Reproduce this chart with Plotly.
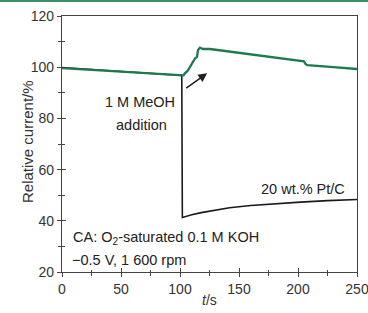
import plotly.graph_objects as go

# Pt/C (black) chronoamperometry
t_ptc = [0, 25, 50, 75, 100, 101.5, 102, 105, 110, 118, 125, 135, 142, 160, 180, 202, 225, 250]
v_ptc = [99.9, 99.2, 98.5, 97.7, 97.0, 96.8, 41.3, 41.8, 42.4, 43.2, 43.8, 44.6, 45.1, 46.0, 46.7, 47.3, 47.9, 48.3]

# catalyst (green)
t_cat = [0, 50, 100, 103, 104, 106.8, 109, 111, 112.7, 114.4, 115.3, 116.9, 119.5, 125.4, 142, 170, 205, 206.5, 208, 230, 250]
v_cat = [99.6, 98.2, 96.7, 96.8, 97.5, 98.8, 100.5, 102.1, 103.4, 104.0, 106.7, 107.6, 107.1, 107.1, 106.1, 104.4, 102.3, 101.2, 100.8, 100.0, 99.3]

x_ticks = [0, 50, 100, 150, 200, 250]
y_ticks = [20, 40, 60, 80, 100, 120]

FONT = "Liberation Sans, Arial, sans-serif"
AX = "#444444"
GREEN = "#1d7a50"

fig = go.Figure()
fig.add_trace(go.Scatter(x=t_ptc, y=v_ptc, mode="lines",
                         line=dict(color="#1a1a1a", width=1.6), xaxis="x", yaxis="y",
                         showlegend=False, hoverinfo="skip"))
fig.add_trace(go.Scatter(x=t_cat, y=v_cat, mode="lines",
                         line=dict(color=GREEN, width=2.3), xaxis="x2", yaxis="y2",
                         showlegend=False, hoverinfo="skip"))

common_x = dict(range=[0, 250], tickvals=x_ticks, ticklen=4, tickwidth=1, tickcolor=AX,
                minor=dict(dtick=25, tick0=0, ticklen=2.5, tickwidth=1, tickcolor=AX),
                showgrid=False, zeroline=False, automargin=False)
common_y = dict(range=[20, 120], tickvals=y_ticks, ticklen=4, tickwidth=1, tickcolor=AX,
                minor=dict(dtick=10, tick0=0, ticklen=2.5, tickwidth=1, tickcolor=AX),
                showgrid=False, zeroline=False, automargin=False)

fig.update_layout(
    width=368, height=313,
    margin=dict(l=62, r=11, t=16, b=41),
    paper_bgcolor="white", plot_bgcolor="white",
    font=dict(family=FONT, color="#333333", size=14),
    xaxis=dict(**common_x, ticks="outside", showline=True, linecolor=AX, linewidth=1.3, mirror=True,
               minor_ticks="outside", ticklabeloverflow="allow",
               tickfont=dict(size=14, color="#333333")),
    yaxis=dict(**common_y, ticks="outside", showline=True, linecolor=AX, linewidth=1.3, mirror=True,
               minor_ticks="outside", ticklabeloverflow="allow",
               tickfont=dict(size=14, color="#333333")),
    xaxis2=dict(**common_x, overlaying="x", anchor="y2", side="bottom", ticks="inside",
                minor_ticks="inside", showticklabels=False, showline=False),
    yaxis2=dict(**common_y, overlaying="y", anchor="x2", side="left", ticks="inside",
                minor_ticks="inside", showticklabels=False, showline=False),
)

ann_font = dict(family=FONT, size=14.5, color="#222222")
# axis titles
fig.add_annotation(x=0.5, y=-28/256, xref="paper", yref="paper", text="<i>t</i>/s",
                   showarrow=False, font=dict(family=FONT, size=14, color="#333333"),
                   yanchor="middle")
fig.add_annotation(x=-35/295, y=(272-142)/256, xref="paper", yref="paper",
                   text="Relative current/%", textangle=-90, showarrow=False,
                   font=dict(family=FONT, size=15, color="#333333"),
                   xanchor="center", yanchor="middle")
# in-plot labels
fig.add_annotation(x=66, y=86.4, text="1 M MeOH", showarrow=False, font=ann_font, xref="x", yref="y")
fig.add_annotation(x=67, y=77.6, text="addition", showarrow=False, font=ann_font, xref="x", yref="y")
fig.add_annotation(x=241.5, y=52.5, text="20 wt.% Pt/C", showarrow=False, font=ann_font,
                   xanchor="right", xref="x", yref="y")
fig.add_annotation(x=8, y=33.3, text="CA: O<sub>2</sub>-saturated 0.1 M KOH", showarrow=False,
                   font=ann_font, xanchor="left", xref="x", yref="y")
fig.add_annotation(x=6.5, y=24.7, text="\u22120.5 V, 1 600 rpm", showarrow=False,
                   font=ann_font, xanchor="left", xref="x", yref="y")
fig.add_annotation(x=123, y=97.6, ax=104, ay=91.4, axref="x", ayref="y", xref="x", yref="y",
                   text="", showarrow=True, arrowhead=2, arrowsize=1.1, arrowwidth=1.6,
                   arrowcolor="#222222")

# thin green border line at the very top of the figure
fig.add_shape(type="line", xref="paper", yref="paper", x0=-62/295, x1=1 + 11/295,
              y0=1 + 15/256, y1=1 + 15/256, line=dict(color="#3d8f6a", width=2))

fig.write_html("out.html", config={"displayModeBar": False},
               post_script="document.body.style.margin='0';document.body.style.overflow='hidden';")
